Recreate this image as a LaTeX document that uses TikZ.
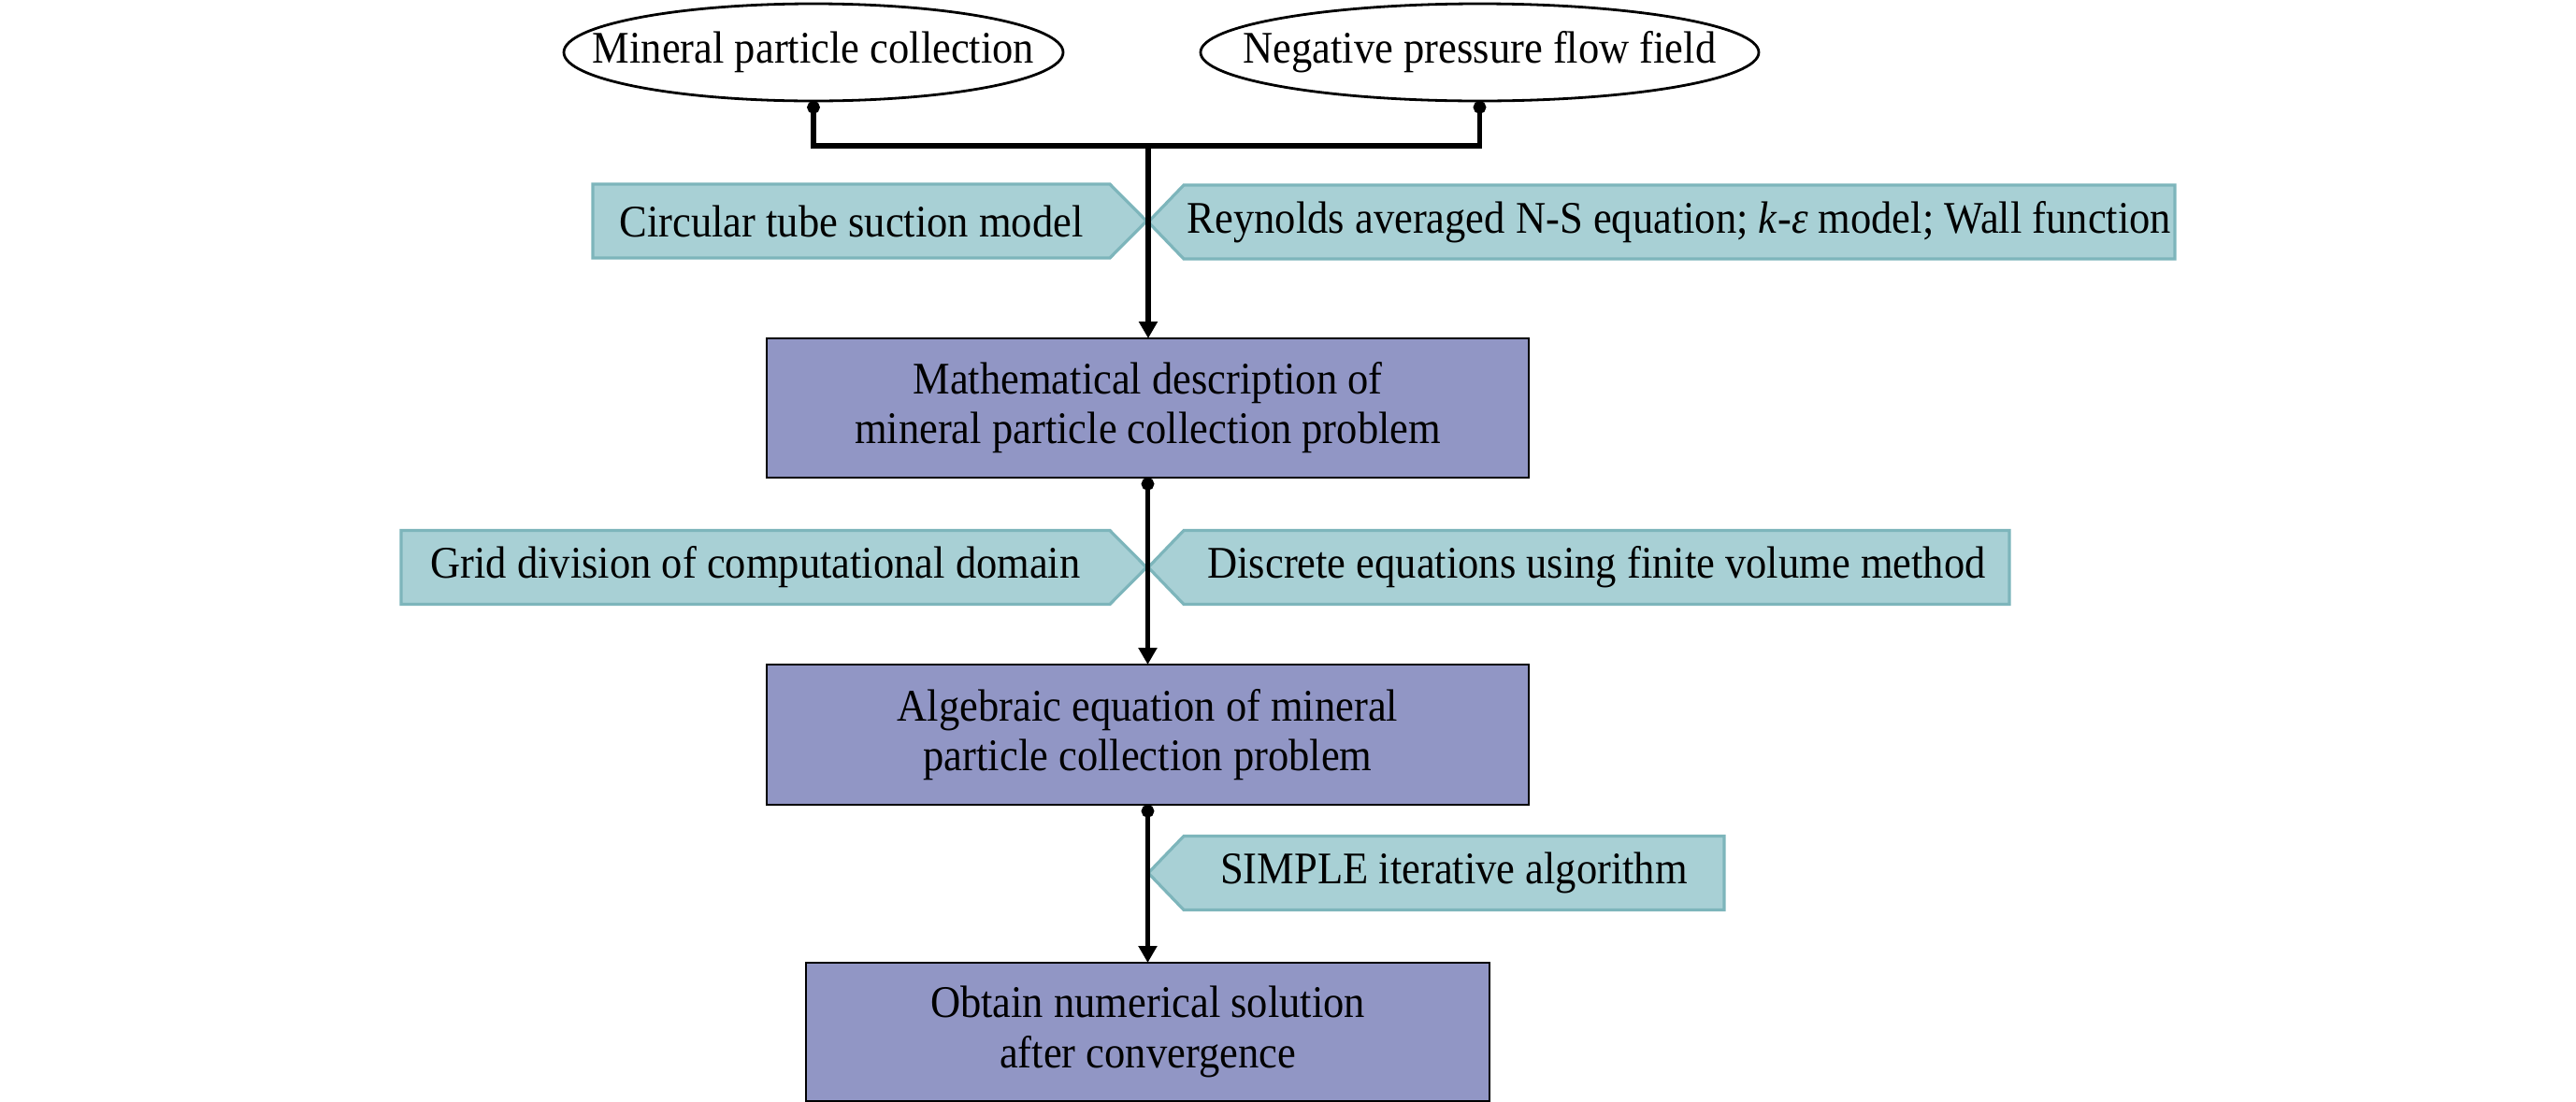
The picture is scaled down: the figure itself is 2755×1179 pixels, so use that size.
\documentclass[tikz,border=0pt]{standalone}
\usepackage{fontspec}
\setmainfont{Liberation Serif}[FakeStretch=0.92]
\usetikzlibrary{arrows.meta,backgrounds,shapes.geometric}
\definecolor{cyanfill}{HTML}{A8D0D5}
\definecolor{cyanline}{HTML}{7DB5BB}
\definecolor{purplefill}{HTML}{9196C5}
\begin{document}
\begin{tikzpicture}[x=0.25pt,y=-0.25pt,
  txt/.style={font=\fontsize{12.1}{13.3}\selectfont},
  oval/.style={ellipse,draw=black,line width=0.7pt,inner sep=0pt,outer sep=0pt,txt},
  procbox/.style={rectangle,draw=black,fill=purplefill,line width=0.6pt,inner sep=0pt,outer sep=0pt,align=center,txt},
  tagtext/.style={rectangle,inner sep=0pt,outer sep=0pt,minimum height=19.75pt,txt},
  tagshape/.style={fill=cyanfill,draw=cyanline,line width=0.8pt},
  conn/.style={line width=1.3pt,draw=black},
  arr/.style={conn,-{Triangle[length=4.5pt,width=4.8pt]}},
  dia/.style={conn,{Circle[length=3.4pt]}-},
  dualarr/.style={conn,{Circle[length=3.4pt]}-{Triangle[length=4.5pt,width=4.8pt]}}
]
\useasboundingbox (0,0) rectangle (2755,1179);

% ellipses
\node[oval,minimum width=133.5pt,minimum height=26pt] (e1) at (870,56) {\makebox[0pt]{Mineral particle collection}};
\node[oval,minimum width=149.25pt,minimum height=26pt] (e2) at (1582.5,56) {\makebox[0pt]{Negative pressure flow field}};

% process boxes
\node[procbox,minimum width=203.75pt,minimum height=37.25pt] (m1) at (1227.5,436.5) {Mathematical description of\\mineral particle collection problem};
\node[procbox,minimum width=203.75pt,minimum height=37.5pt] (m2) at (1227.5,786) {Algebraic equation of mineral\\particle collection problem};
\node[procbox,minimum width=182.75pt,minimum height=37pt] (m3) at (1227.5,1104) {Obtain numerical solution\\after convergence};

% tag texts
\node[tagtext,minimum width=138.25pt] (c1) at (910.5,236.5) {Circular tube suction model};
\node[tagtext,minimum width=265pt] (r1) at (1796,237.5) {Reynolds averaged N-S equation; \textit{k}-\textit{ε} model; Wall function};
\node[tagtext,minimum width=189.5pt] (g1) at (808,607) {Grid division of computational domain};
\node[tagtext,minimum width=220.75pt] (d1) at (1707.5,607) {Discrete equations using finite volume method};
\node[tagtext,minimum width=144.5pt] (s1) at (1555,934) {SIMPLE iterative algorithm};

\begin{scope}[on background layer]
\draw[tagshape] (c1.north west) -- (c1.north east) -- ([xshift=9.8pt]c1.east) -- (c1.south east) -- (c1.south west) -- cycle;
\draw[tagshape] (g1.north west) -- (g1.north east) -- ([xshift=9.8pt]g1.east) -- (g1.south east) -- (g1.south west) -- cycle;
\draw[tagshape] (r1.north east) -- (r1.north west) -- ([xshift=-9.5pt]r1.west) -- (r1.south west) -- (r1.south east) -- cycle;
\draw[tagshape] (d1.north east) -- (d1.north west) -- ([xshift=-9.5pt]d1.west) -- (d1.south west) -- (d1.south east) -- cycle;
\draw[tagshape] (s1.north east) -- (s1.north west) -- ([xshift=-9.5pt]s1.west) -- (s1.south west) -- (s1.south east) -- cycle;
\end{scope}

% connectors
\coordinate (j) at (1228,156);
\draw[dia] (e1.south) |- (j);
\draw[dia] (e2.south) |- (j);
\draw[arr] (j) -- (j |- m1.north);
\draw[dualarr] (m1.south) -- (m2.north);
\draw[dualarr] (m2.south) -- (m3.north);
\end{tikzpicture}
\end{document}
